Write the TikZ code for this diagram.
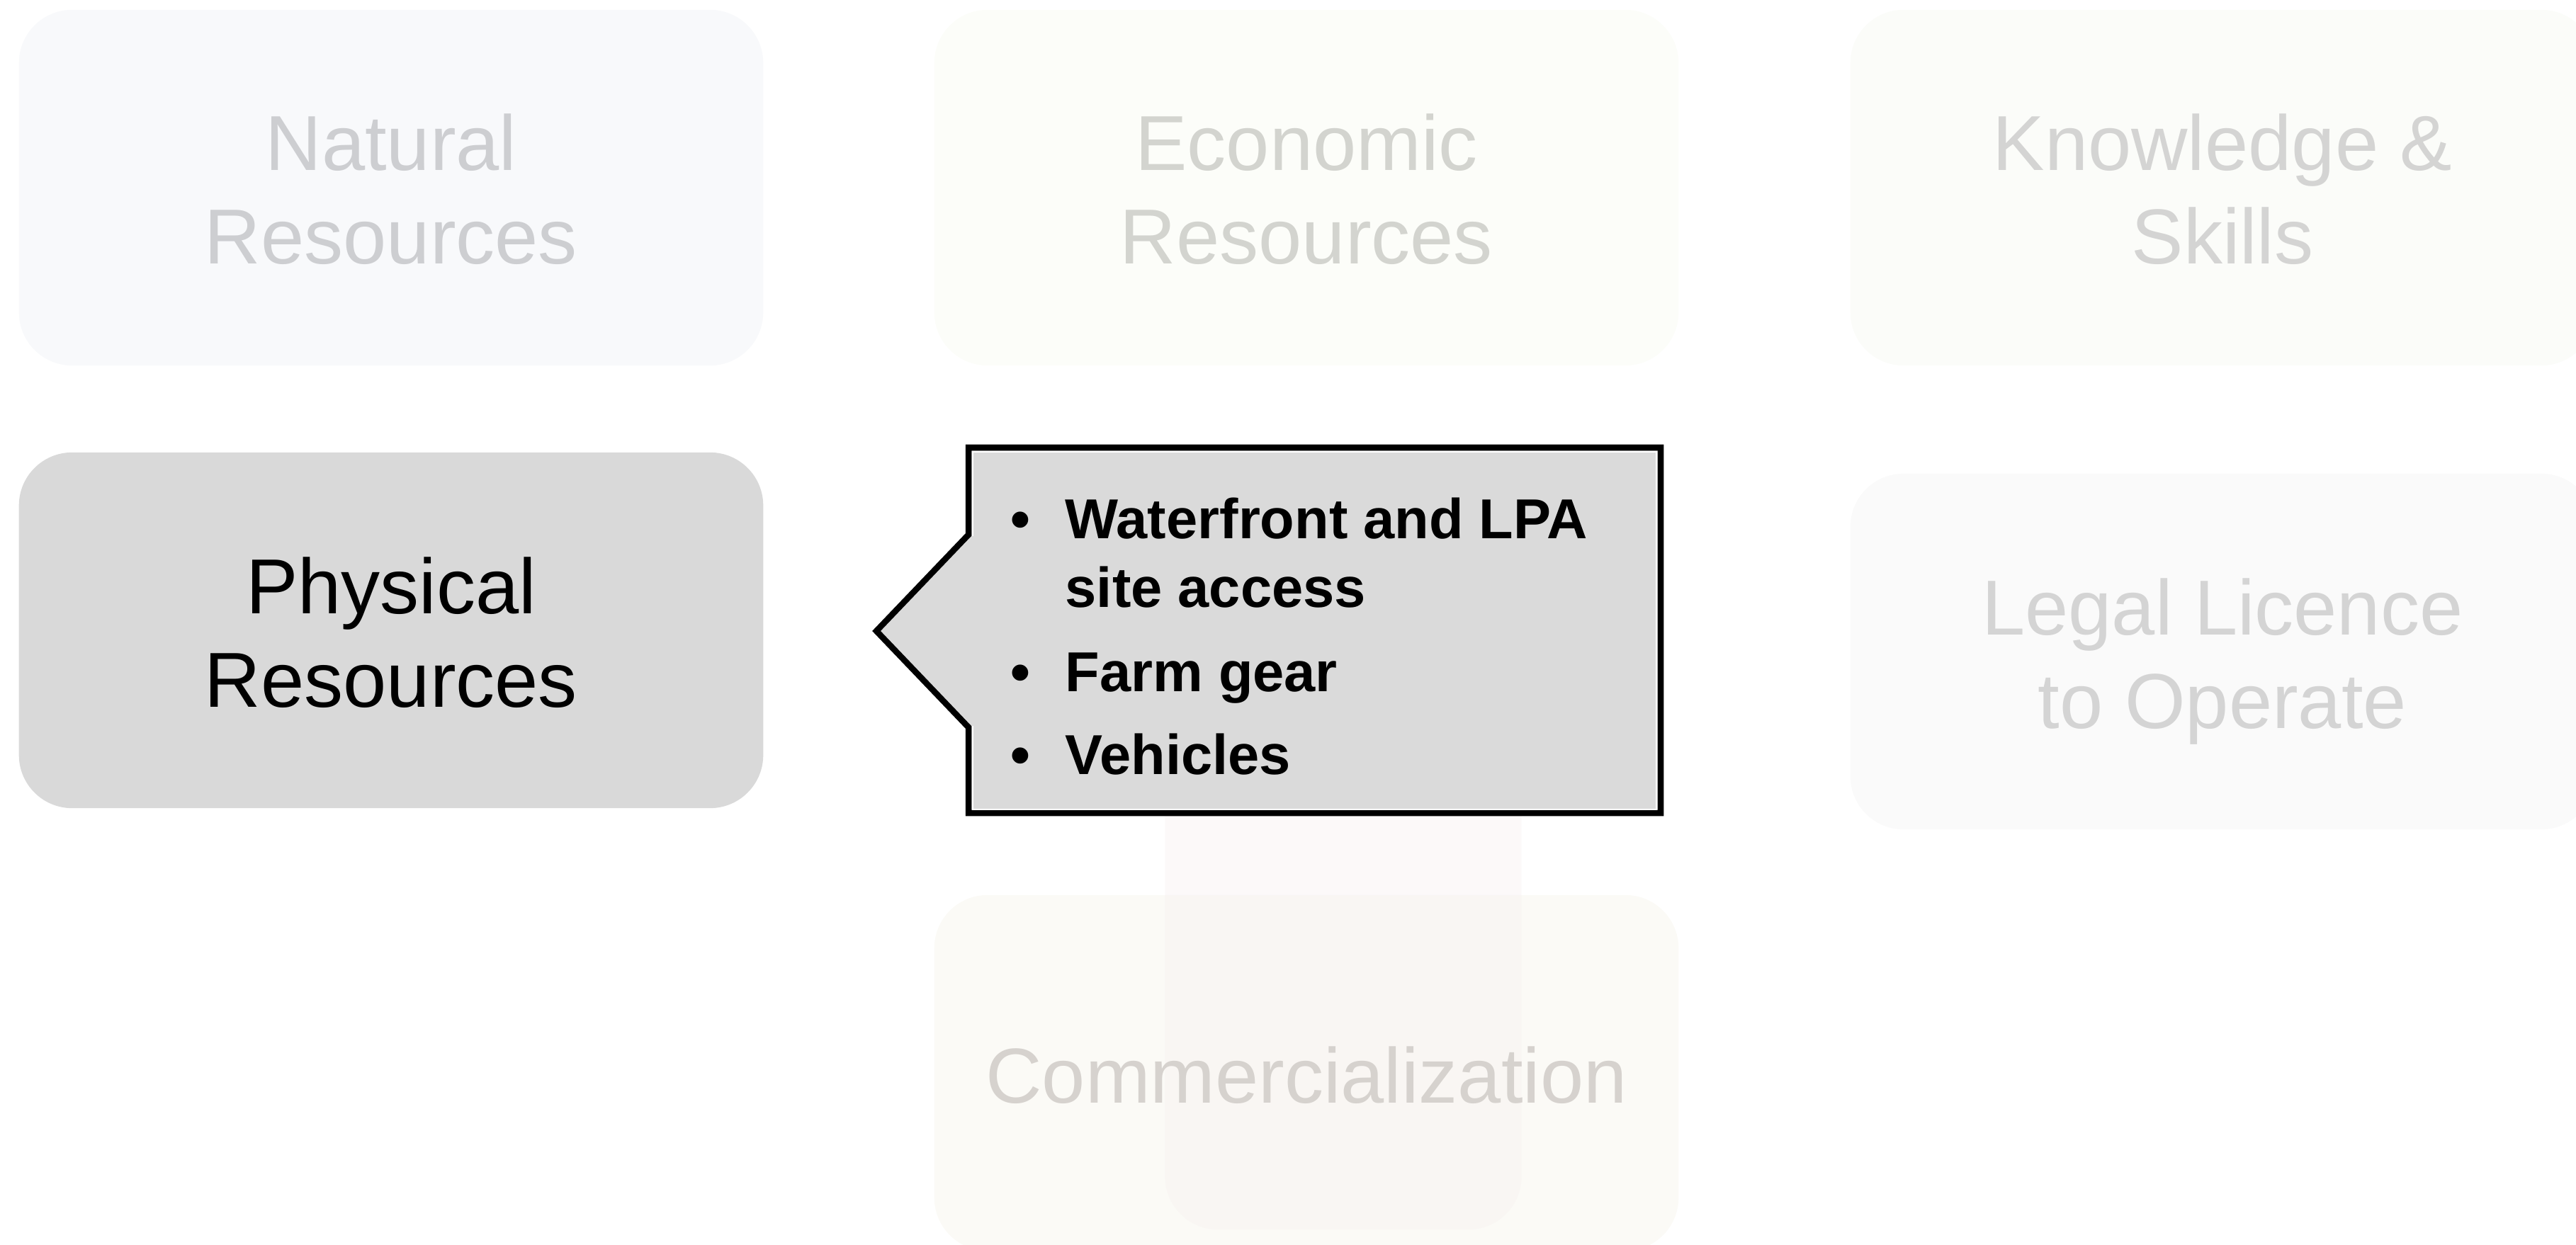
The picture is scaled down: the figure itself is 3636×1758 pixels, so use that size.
\documentclass[tikz,border=0pt]{standalone}
\usepackage{fontspec}
\setmainfont{Liberation Sans}
\definecolor{natfill}{HTML}{F8F9FB}
\definecolor{nattext}{HTML}{CDCED1}
\definecolor{ecofill}{HTML}{FCFDF9}
\definecolor{ecotext}{HTML}{D3D4CF}
\definecolor{knofill}{HTML}{FBFCF9}
\definecolor{knotext}{HTML}{D4D4D3}
\definecolor{legfill}{HTML}{FAFAFA}
\definecolor{legtext}{HTML}{D4D4D4}
\definecolor{comfill}{HTML}{FBFAF6}
\definecolor{comtext}{HTML}{D6D2CE}
\definecolor{pinkfill}{RGB}{247,240,240}
\definecolor{physfill}{HTML}{D9D9D9}
\definecolor{callfill}{HTML}{DADADA}
\begin{document}
\begin{tikzpicture}[x=0.01cm,y=-0.01cm,
  resbox/.style={rectangle, rounded corners=0.75cm, minimum width=10.5cm,
    minimum height=5.02cm, inner sep=0pt, draw=none},
  lbl/.style={anchor=base, inner sep=0pt, font=\fontsize{31.3pt}{37pt}\selectfont},
  bul/.style={anchor=base, inner sep=0pt, font=\bfseries\fontsize{22.6pt}{26pt}\selectfont},
  itm/.style={anchor=base west, inner sep=0pt, font=\bfseries\fontsize{22.6pt}{26pt}\selectfont}]
\useasboundingbox (0,0) rectangle (3636,1758);
\clip (0,0) rectangle (3636,1758);

% faded boxes
\node[resbox, fill=natfill] (natural) at (552,265) {};
\node[lbl, text=nattext] (natural1) at (552,241) {Natural};
\node[lbl, text=nattext] (natural2) at (552,373) {Resources};

\node[resbox, fill=ecofill] (economic) at (1844,265) {};
\node[lbl, text=ecotext] (economic1) at (1844,241) {Economic};
\node[lbl, text=ecotext] (economic2) at (1844,373) {Resources};

\node[resbox, fill=knofill] (knowledge) at (3137,265) {};
\node[lbl, text=knotext] (knowledge1) at (3137,241) {Knowledge \&};
\node[lbl, text=knotext] (knowledge2) at (3137,373) {Skills};

\node[resbox, fill=legfill] (legal) at (3137,920) {};
\node[lbl, text=legtext] (legal1) at (3137,896) {Legal Licence};
\node[lbl, text=legtext] (legal2) at (3137,1028) {to Operate};

\node[resbox, fill=comfill] (commerce) at (1844,1515) {};
\node[resbox, fill=pinkfill, fill opacity=0.4, minimum width=5.03cm, minimum height=7.36cm] (pink) at (1896,1368) {};
\node[lbl, text=comtext] (commerce1) at (1844,1557) {Commercialization};

% highlighted box
\node[resbox, fill=physfill] (physical) at (552,890) {};
\node[lbl, text=black] (physical1) at (552,866) {Physical};
\node[lbl, text=black] (physical2) at (552,998) {Resources};

% callout
\coordinate (tip) at (1237,891);
\draw[line width=0.085cm, line join=miter, fill=callfill]
  (1367,755) -- (1367,632) -- (2344,632) -- (2344,1148) -- (1367,1148) -- (1367,1027) -- (tip) -- cycle;
\draw[white, line width=0.02cm]
  (1373,757) -- (1373,637.5) -- (2338,637.5) -- (2338,1142.5) -- (1373,1142.5) -- (1373,1025);

\node[bul] (b1) at (1440,760) {•};
\node[itm] (i1a) at (1503,760) {Waterfront and LPA};
\node[itm] (i1b) at (1503,857) {site access};
\node[bul] (b2) at (1440,976) {•};
\node[itm] (i2) at (1503,976) {Farm gear};
\node[bul] (b3) at (1440,1093) {•};
\node[itm] (i3) at (1503,1093) {Vehicles};
\end{tikzpicture}
\end{document}
